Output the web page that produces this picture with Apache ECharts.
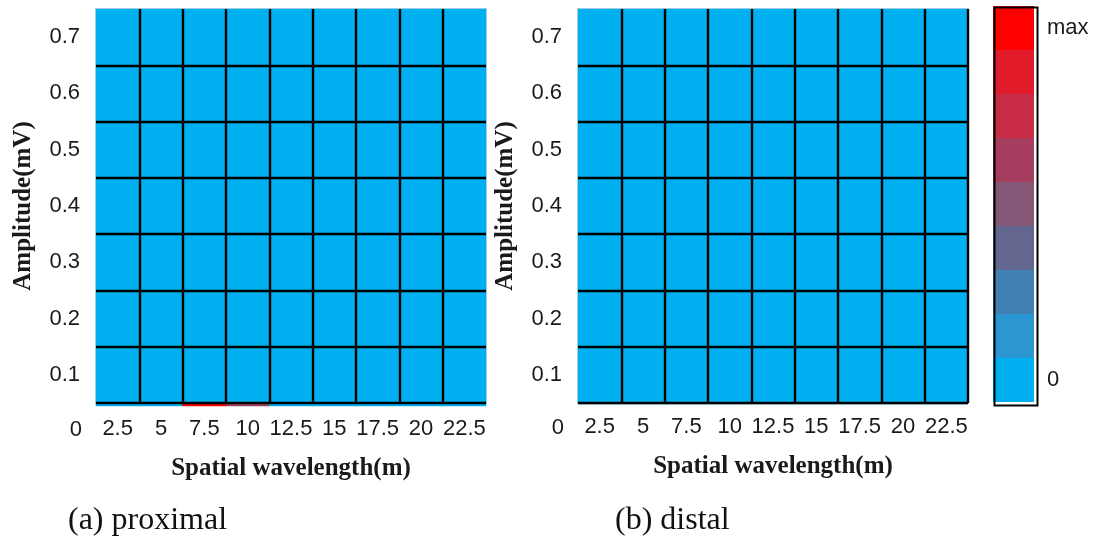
<!DOCTYPE html>
<html>
<head>
<meta charset="utf-8">
<script src="https://cdn.jsdelivr.net/npm/echarts@6/dist/echarts.min.js"></script>
<style>
html,body{margin:0;padding:0;background:#fff;}
#chart{width:1115px;height:545px;}
</style>
</head>
<body>
<div id="chart"></div>
<script>
// ---- data ----
const wavelengths = ['2.5', '5', '7.5', '10', '12.5', '15', '17.5', '20', '22.5'];
const amplitudes = ['0.1', '0.2', '0.3', '0.4', '0.5', '0.6', '0.7'];
const zeroAmplitude = ['0'];
// rows: amplitude 0.1 (bottom) ... 0.7 (top); values normalised 0..1 (1 = max)
const proximal = [
  [0, 0, 0, 0, 0, 0, 0, 0, 0],
  [0, 0, 0, 0, 0, 0, 0, 0, 0],
  [0, 0, 0, 0, 0, 0, 0, 0, 0],
  [0, 0, 0, 0, 0, 0, 0, 0, 0],
  [0, 0, 0, 0, 0, 0, 0, 0, 0],
  [0, 0, 0, 0, 0, 0, 0, 0, 0],
  [0, 0, 0, 0, 0, 0, 0, 0, 0]
];
const proximalZeroRow = [0, 0, 1, 0.6, 0, 0, 0, 0, 0];
const distal = [
  [0, 0, 0, 0, 0, 0, 0, 0, 0],
  [0, 0, 0, 0, 0, 0, 0, 0, 0],
  [0, 0, 0, 0, 0, 0, 0, 0, 0],
  [0, 0, 0, 0, 0, 0, 0, 0, 0],
  [0, 0, 0, 0, 0, 0, 0, 0, 0],
  [0, 0, 0, 0, 0, 0, 0, 0, 0],
  [0, 0, 0, 0, 0, 0, 0, 0, 0]
];
const distalZeroRow = [0, 0, 0, 0, 0, 0, 0, 0, 0];
// colour levels, from 0 (first) to max (last)
const levelColors = ['#00B0F0', '#2A96D2', '#4080B3', '#63678F', '#855777', '#A53D5E', '#C72C44', '#E11B2A', '#FF0000'];
const colorbarLabels = ['0', 'max'];

// ---- build ----
function toCells(rows) {
  const out = [];
  rows.forEach((row, y) => row.forEach((v, x) => out.push([x, y, v])));
  return out;
}
function rowCells(row) {
  return row.map((v, x) => [x, 0, v]);
}
const pieces = levelColors.map((c, i) => ({
  min: i / levelColors.length,
  max: (i + 1) / levelColors.length,
  color: c
}));

const sans = 'Liberation Sans';
const serif = 'Liberation Serif';
const tickFont = { fontFamily: sans, fontSize: 22, color: '#1a1a1a' };
const titleFont = { fontFamily: serif, fontSize: 25, fontWeight: 'bold', color: '#1a1a1a' };
const gridLine = { color: '#000', width: 2.4 };

const panels = [
  { left: 96, main: proximal, zero: proximalZeroRow, stripTop: 403, stripH: 3, showMax: false, label: '(a) proximal', labelLeft: 63 },
  { left: 578, main: distal, zero: distalZeroRow, stripTop: 402, stripH: 2, showMax: true, label: '(b) distal', labelLeft: 610 }
];
const W = 390, TOP = 9, H = 394;

const grid = [], xAxis = [], yAxis = [], series = [], title = [];
panels.forEach((p, k) => {
  const gMain = grid.length;
  grid.push({ left: p.left, top: TOP, width: W, height: H, show: true, borderColor: '#d4d4d4', borderWidth: 2, backgroundColor: 'transparent' });
  xAxis.push({
    type: 'category', data: wavelengths, gridIndex: gMain, z: 5,
    axisLine: { show: false }, axisTick: { show: false }, axisLabel: { show: false },
    splitLine: { show: true, interval: 0, lineStyle: gridLine, showMinLine: false, showMaxLine: p.showMax }
  });
  yAxis.push({
    type: 'category', data: amplitudes, gridIndex: gMain, z: 5,
    axisLine: { show: false }, axisTick: { show: false },
    axisLabel: Object.assign({ margin: 16, interval: 0 }, tickFont),
    splitLine: { show: true, interval: 0, lineStyle: gridLine, showMinLine: true, showMaxLine: false },
    name: 'Amplitude(mV)', nameLocation: 'middle', nameGap: 60, nameRotate: 90,
    nameTextStyle: titleFont
  });
  series.push({
    type: 'heatmap', xAxisIndex: xAxis.length - 1, yAxisIndex: yAxis.length - 1,
    data: toCells(p.main), emphasis: { disabled: true }, z: 2
  });

  const gStrip = grid.length;
  grid.push({ left: p.left, top: p.stripTop, width: W, height: p.stripH });
  xAxis.push({
    type: 'category', data: wavelengths, gridIndex: gStrip,
    axisLine: { show: false }, axisTick: { show: false }, splitLine: { show: false },
    axisLabel: Object.assign({ margin: 12, interval: 0, hideOverlap: false }, tickFont),
    name: 'Spatial wavelength(m)', nameLocation: 'middle', nameGap: 50,
    nameTextStyle: titleFont
  });
  yAxis.push({
    type: 'category', data: zeroAmplitude, gridIndex: gStrip,
    axisLine: { show: false }, axisTick: { show: false }, splitLine: { show: false },
    axisLabel: Object.assign({ margin: 14, verticalAlign: 'top', lineHeight: 50 }, tickFont)
  });
  series.push({
    type: 'heatmap', xAxisIndex: xAxis.length - 1, yAxisIndex: yAxis.length - 1,
    data: rowCells(p.zero), emphasis: { disabled: true }, z: 1
  });

  title.push({
    text: p.label, left: p.labelLeft, top: 500,
    textStyle: { fontFamily: serif, fontSize: 32, fontWeight: 'normal', color: '#111' }
  });
});

const chart = echarts.init(document.getElementById('chart'), null, { renderer: 'canvas' });
chart.setOption({
  animation: false,
  backgroundColor: '#fff',
  title: title,
  grid: grid,
  xAxis: xAxis,
  yAxis: yAxis,
  visualMap: {
    type: 'piecewise',
    orient: 'vertical',
    align: 'left',
    seriesIndex: series.map((s, i) => i),
    dimension: 2,
    pieces: pieces,
    left: 993, top: 6, padding: 0,
    itemWidth: 41, itemHeight: 44, itemGap: 0,
    itemSymbol: 'rect',
    textGap: 13,
    hoverLink: false,
    selectedMode: false,
    showLabel: true,
    formatter: function (a, b) {
      if (a === 0) return colorbarLabels[0];
      if (b >= 1) return colorbarLabels[1];
      return '';
    },
    textStyle: { fontFamily: sans, fontSize: 22, color: '#1a1a1a' }
  },
  graphic: [{
    type: 'rect', left: 992, top: 5, z: 100,
    shape: { width: 43, height: 398 },
    style: { fill: null, stroke: '#000', lineWidth: 2 }
  }],
  series: series
});
</script>
</body>
</html>
